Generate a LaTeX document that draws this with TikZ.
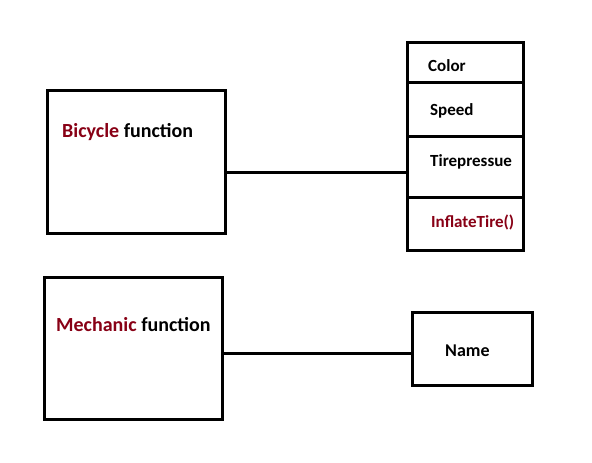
\documentclass[tikz,border=0pt]{standalone}
\usepackage{fontspec}
\setmainfont{Carlito}
\definecolor{maroonred}{RGB}{136,0,21}
\tikzset{
  box/.style={draw=black, line width=3pt, inner sep=0pt, outer sep=0pt},
  conn/.style={draw=black, line width=3pt},
  big/.style={font=\fontsize{20}{23}\selectfont\bfseries, anchor=west, inner sep=0pt},
  small/.style={font=\fontsize{17}{19}\selectfont\bfseries, anchor=west, inner sep=0pt},
}
\begin{document}
\begin{tikzpicture}[x=1pt,y=-1pt]
\useasboundingbox (0,0) rectangle (592,463);
% left boxes
\node[box, minimum width=178pt, minimum height=143pt] (bike) at (136,161.5) {};
\node[box, minimum width=178pt, minimum height=142pt] (mech) at (133,348) {};
% right stack
\node[box, minimum width=116pt, minimum height=40pt] (color) at (465,62) {};
\node[box, minimum width=116pt, minimum height=54pt] (speed) at (465,109) {};
\node[box, minimum width=116pt, minimum height=61pt] (tire) at (465,166.5) {};
\node[box, minimum width=116pt, minimum height=53pt] (inflate) at (465,223.5) {};
\node[box, minimum width=120pt, minimum height=73pt] (name) at (472,348.5) {};
% texts
\node[big] (tbike) at (62,132) {\textcolor{maroonred}{Bicycle} function};
\node[big] (tmech) at (56,325) {\textcolor{maroonred}{Mechanic} function};
\node[small] (tcolor) at (428,66) {Color};
\node[small] (tspeed) at (430,111) {Speed};
\node[small] (ttire) at (430,162) {Tirepressue};
\node[small, text=maroonred] (tinfl) at (431,222) {InflateTire()};
\node[font=\fontsize{18}{20}\selectfont\bfseries, anchor=west, inner sep=0pt] (tname) at (445,351) {Name};
% connectors
\coordinate (j1) at (0,172.5);
\coordinate (j2) at (0,353);
\draw[conn] (bike.east |- j1) -- (tire.west |- j1);
\draw[conn] (mech.east |- j2) -- (name.west |- j2);
\end{tikzpicture}
\end{document}
